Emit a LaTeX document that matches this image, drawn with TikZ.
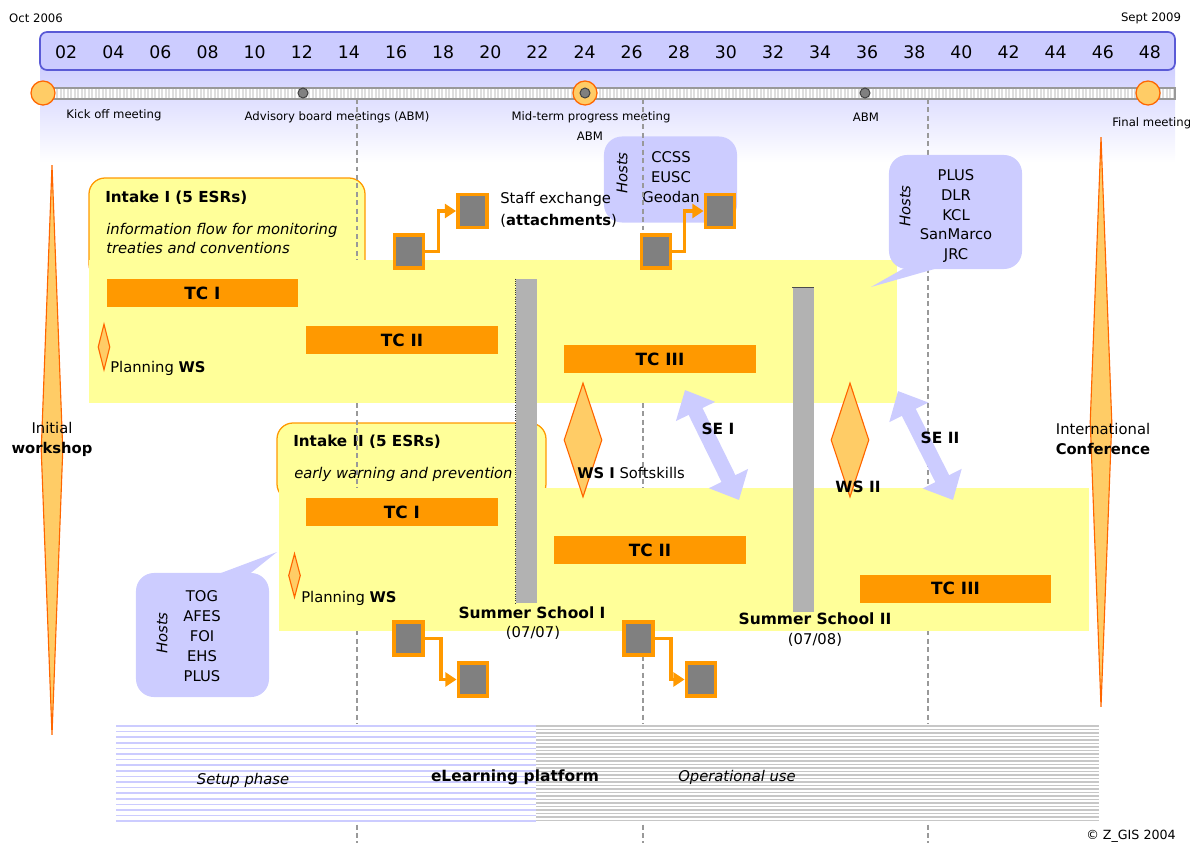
\documentclass[tikz,border=0pt]{standalone}
\usepackage{fontspec}
\setmainfont{DejaVu Sans}
\usetikzlibrary{arrows.meta, positioning, shapes.geometric}

\definecolor{lav}{HTML}{CCCCFF}
\definecolor{lavdark}{HTML}{5A5AD6}
\definecolor{tcorange}{HTML}{FF9900}
\definecolor{panelyel}{HTML}{FFFF99}
\definecolor{dmdfill}{HTML}{FFCC66}
\definecolor{dmdline}{HTML}{FF6600}
\definecolor{ssgrey}{HTML}{B2B2B2}
\definecolor{sqgrey}{HTML}{808080}

\tikzset{
    txt/.style={font=\fontsize{10.5}{14.2}\selectfont, inner sep=0pt},
    itl/.style={font=\fontsize{10.5}{13.5}\selectfont\itshape, inner sep=0pt},
    bld/.style={font=\fontsize{11}{14.2}\selectfont\bfseries, inner sep=0pt},
    ttl/.style={font=\fontsize{10.8}{14}\selectfont\bfseries, inner sep=0pt},
    sml/.style={font=\fontsize{8.3}{10}\selectfont, inner sep=0pt},
    month/.style={font=\fontsize{12.3}{14}\selectfont, inner sep=0pt},
    tcbar/.style={fill=tcorange, minimum width=4.775cm, minimum height=0.7cm, inner sep=0pt,
        font=\fontsize{12}{14}\selectfont\bfseries},
    ssbar/.style={fill=ssgrey, minimum width=0.525cm, minimum height=8.1cm, inner sep=0pt},
    sqr/.style={draw=tcorange, fill=sqgrey, line width=2.8pt, minimum width=0.725cm,
        minimum height=0.825cm, inner sep=0pt},
    xchg/.style={draw=tcorange, line width=2.8pt, -{Triangle[length=8pt, width=10pt]}},
    searrow/.style={draw=lav, line width=11pt,
        {Triangle[length=17pt, width=30pt]}-{Triangle[length=17pt, width=30pt]}},
    dmd/.style={diamond, draw=dmdline, fill=dmdfill, line width=0.8pt, inner sep=0pt},
    meetbig/.style={circle, draw=dmdline, fill=dmdfill, line width=0.9pt, minimum size=0.6cm, inner sep=0pt},
    abmdot/.style={circle, draw=black!75, fill=black!50, line width=0.7pt, minimum size=0.25cm, inner sep=0pt},
    hostbox/.style={fill=lav, rounded corners=0.45cm, minimum width=3.325cm, inner sep=0pt},
    hostlbl/.style={itl, rotate=90},
    intake/.style={draw=tcorange, fill=panelyel, line width=0.9pt, rounded corners=0.4cm},
    gridline/.style={draw=black!40, line width=1.1pt, dash pattern=on 3.5pt off 2.5pt}
}

\begin{document}
\begin{tikzpicture}[x=0.025cm, y=-0.025cm]
    \useasboundingbox (0,0) rectangle (1190,843);

    \shade[top color=lav, bottom color=white] (40,60) rectangle (1175,162);
    \draw[fill=lav, draw=lavdark, line width=1.2pt, rounded corners=5pt] (40,32) rectangle (1175,70);
    \foreach \m [count=\i from 0] in {02,04,06,08,10,12,14,16,18,20,22,24,26,28,30,32,34,36,38,40,42,44,46,48}
        \node[month] (m\m) at ({66.2+47.12*\i},52) {\m};
    \node[sml] (start) at (36,18) {Oct 2006};
    \node[sml] (end) at (1151,18) {Sept 2009};

    \filldraw[fill=black!13, draw=black!40, line width=0.9pt] (43,88) rectangle (1175,99);
    \foreach \k in {0,...,322}
        \draw[white, line width=0.9pt] ({45+3.5*\k},89) -- ({45+3.5*\k},98);
    \node[meetbig] (kickoff) at (43,93) {};
    \node[abmdot] (abm1) at (303,93) {};
    \node[meetbig] (midterm) at (585,93) {};
    \node[abmdot] (abm2) at (585,93) {};
    \node[abmdot] (abm3) at (865,93) {};
    \node[meetbig] (final) at (1148,93) {};
    \node[sml] (kickoffl) at (114,115) {Kick off meeting};
    \node[sml] (abm1l) at (337,117) {Advisory board meetings (ABM)};
    \node[sml] (midterml) at (591,117) {Mid-term progress meeting};
    \node[sml] (abm2l) at (590,136) {ABM};
    \node[sml] (abm3l) at (866,117) {ABM};
    \node[sml, anchor=west] (finall) at (1112,123) {Final meeting};

    \draw[intake] (89,178) rectangle (365,280);
    \node[ttl, anchor=west] (in1) at (105,198) {Intake I (5 ESRs)};
    \node[itl, anchor=west, align=left] (in1d) at (106,238.5) {information flow for monitoring\\treaties and conventions};
    \draw[intake] (277,423) rectangle (546,500);
    \node[ttl, anchor=west] (in2) at (293,442) {Intake II (5 ESRs)};
    \node[itl, anchor=west] (in2d) at (294,474) {early warning and prevention};

    \node[hostbox, minimum height=2.15cm] (host1) at (670.5,179.5) {};
    \node[txt, align=center] (host1n) at (671,177) {CCSS\\EUSC\\Geodan};
    \node[hostlbl] (host1h) at (622,173) {Hosts};

    \foreach \x in {357,643,928}
        \draw[gridline] (\x,99) -- (\x,843);

    \fill[panelyel] (89,260) rectangle (897,403);
    \fill[panelyel] (279,488) rectangle (1089,631);

    \fill[lav] (908,266) -- (871,287) -- (945,266) -- cycle;
    \node[hostbox, minimum height=2.85cm] (host2) at (955.5,212) {};
    \node[txt, align=center] (host2n) at (956,216) {PLUS\\DLR\\KCL\\SanMarco\\JRC};
    \node[hostlbl] (host2h) at (905,206) {Hosts};

    \fill[lav] (213,576) -- (277,552) -- (247,576) -- cycle;
    \node[hostbox, minimum height=3.1cm] (host3) at (202.5,635) {};
    \node[txt, align=center] (host3n) at (202,636) {TOG\\AFES\\FOI\\EHS\\PLUS};
    \node[hostlbl] (host3h) at (162,633) {Hosts};

    \node[sqr] (sxa1) at (409,251.5) {};
    \node[sqr] (sxb1) at (472.5,211) {};
    \node[sqr] (sxa2) at (656,251.5) {};
    \node[sqr] (sxb2) at (720,211) {};
    \node[sqr] (sxa3) at (408.5,638.5) {};
    \node[sqr] (sxb3) at (473,679.5) {};
    \node[sqr] (sxa4) at (638.5,638.5) {};
    \node[sqr] (sxb4) at (701,679.5) {};
    \draw[xchg] (sxa1.east) -- ++(13,0) |- (sxb1.west);
    \draw[xchg] (sxa2.east) -- ++(12,0) |- (sxb2.west);
    \draw[xchg] (sxa3.east) -- ++(16,0) |- (sxb3.west);
    \draw[xchg] (sxa4.east) -- ++(16,0) |- (sxb4.west);
    \node[txt, anchor=west, align=left] (sxtext) at (500,210) {Staff exchange\\[1.5pt](\textbf{attachments})};

    \node[tcbar] (tc1a) at (202.5,293) {TC I};
    \node[tcbar] (tc2a) at (402,340) {TC II};
    \node[tcbar] (tc3a) at (660,359) {TC III};
    \node[tcbar] (tc1b) at (402,512) {TC I};
    \node[tcbar] (tc2b) at (650,550) {TC II};
    \node[tcbar] (tc3b) at (955.5,588.5) {TC III};

    \node[ssbar] (ss1) at (526.5,441) {};
    \node[ssbar] (ss2) at (803,450) {};
    \draw[black!80, densely dotted, line width=0.6pt] (ss1.north west) -- (ss1.south west);
    \draw[black!70, line width=0.7pt] (ss2.north west) -- (ss2.north east);
    \node[bld] (ss1l) at (532,613) {Summer School I};
    \node[txt] (ss1d) at (533,633) {(07/07)};
    \node[bld] (ss2l) at (815,619) {Summer School II};
    \node[txt] (ss2d) at (815,640) {(07/08)};

    \node[dmd, minimum width=0.3cm, minimum height=1.15cm] (plan1) at (104,347) {};
    \node[txt, anchor=west] (plan1l) at (110,368) {Planning \textbf{WS}};
    \node[dmd, minimum width=0.3cm, minimum height=1.1cm] (plan2) at (294.5,575.5) {};
    \node[txt, anchor=west] (plan2l) at (301,598) {Planning \textbf{WS}};

    \node[dmd, minimum width=0.95cm, minimum height=2.85cm] (ws1) at (583,440) {};
    \node[txt, anchor=west] (ws1l) at (577,473) {\textbf{WS I} Softskills};
    \node[dmd, minimum width=0.95cm, minimum height=2.85cm] (ws2) at (850,440) {};
    \node[bld] (ws2l) at (858,487) {WS II};

    \coordinate (se1a) at (685,390);
    \coordinate (se1b) at (739,500);
    \draw[searrow] (se1a) -- (se1b);
    \node[bld] (se1) at (718,429) {SE I};
    \coordinate (se2a) at (898,391);
    \coordinate (se2b) at (953,500);
    \draw[searrow] (se2a) -- (se2b);
    \node[bld] (se2) at (940,438) {SE II};

    \fill[white] (116,724) rectangle (1099,823);
    \foreach \k in {0,...,17}
        \draw[lav, line width=1.2pt] (116,{726+5.6*\k}) -- (536,{726+5.6*\k});
    \foreach \k in {0,...,27}
        \draw[black!22, line width=1.1pt] (536,{726+3.5*\k}) -- (1099,{726+3.5*\k});
    \node[itl] (setup) at (243,780) {Setup phase};
    \node[bld] (elearn) at (515,777) {eLearning platform};
    \node[itl] (opuse) at (737,777) {Operational use};
    \node[sml, font=\fontsize{9}{10}\selectfont] (copy) at (1131,836) {© Z\_GIS 2004};

    \node[dmd, minimum width=0.55cm, minimum height=14.25cm] (initws) at (52,450) {};
    \node[txt, align=center] (initwsl) at (52,439) {Initial\\\textbf{workshop}};
    \node[dmd, minimum width=0.55cm, minimum height=14.25cm] (intconf) at (1101,422) {};
    \node[txt, align=center] (intconfl) at (1103,439) {International\\\textbf{Conference}};
\end{tikzpicture}
\end{document}
